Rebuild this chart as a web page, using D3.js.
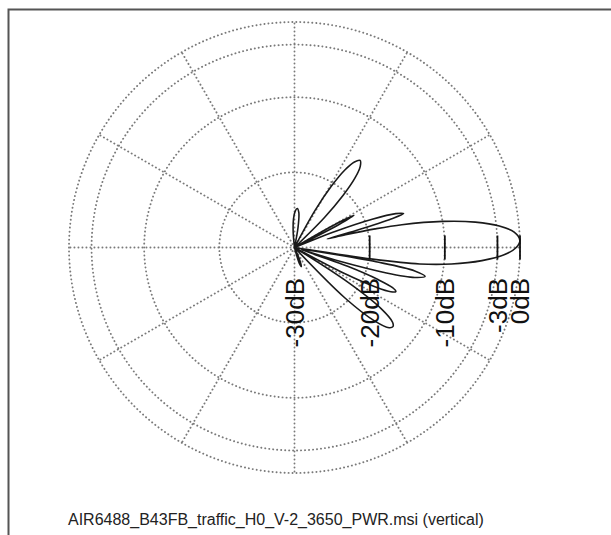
<!DOCTYPE html>
<html lang="en">
<head>
<meta charset="UTF-8">
<script src="https://d3js.org/d3.v7.min.js"></script>
<style>
  body { margin: 0; background: #fff; font-family: "Liberation Sans", Arial, sans-serif; }
  .grid { fill: none; stroke: #7a7a7a; stroke-width: 1.9; stroke-dasharray: 0.1 3.9; stroke-linecap: round; }
  .pattern { fill: none; stroke: #1a1a1a; stroke-width: 1.6; stroke-linejoin: round; }
  .tick { stroke: #111; stroke-width: 1.8; }
  .tick-label { font-size: 26px; fill: #111; }
  .title { font-size: 16px; fill: #222; }
</style>
</head>
<body>
<svg id="chart" width="611" height="535"></svg>
<script>
// vertical pattern, angle in degrees (0 = right, positive = up), gain in dB
const patternAngles = [-180, -120, -80, -76, -73, -70, -67, -64, -50, -47.5, -45, -42.5, -40.3, -38.8, -37.3, -35.2, -33, -30.5,
  -29, -27.5, -26, -24.7, -23.5, -22.3, -21, -19.5, -18, -17, -15.5, -14, -12.5, -11, -9.9, -9.2, -8.5, -7.5, -6, -4, -2, 0, 1.8,
  4, 6, 8, 10, 12, 13, 14, 14.8, 15.5, 16.5, 17.3, 18.5, 20, 21.5, 22.5, 26.3, 27.3, 28.4, 29.5, 30.5,
  43, 45, 47, 49, 51, 53, 55, 57, 59, 61, 63, 77, 80, 83, 86, 89, 92, 95, 98, 120];
const patternDb = [-30, -30, -30, -30, -27.8, -27.3, -28.5, -30, -30, -30, -20.5, -15.5, -13.5, -13.2, -13.6, -15.9, -21.6, -30,
  -30, -22.5, -18.1, -15.9, -15.3, -15.9, -18.1, -22.5, -29, -23.7, -17.3, -13.5, -12.2, -13.7, -19, -30, -19.5, -13.2, -9.0, -5.0, -2.1, -0.5, 0,
  -0.7, -2.6, -5.7, -10, -15.4, -19, -23, -25.5, -21.5, -16.5, -14.8, -15.8, -19, -24, -30, -30, -23.4, -21, -23.4, -30,
  -30, -24.4, -20.5, -17.7, -16.1, -15.5, -16.1, -17.7, -20.5, -24.4, -30, -30, -27.3, -25.3, -24.8, -25.2, -26.2, -28, -30, -30];

const ringDb = [-20, -10, -3, 0];
const spokeAngles = [0, 30, 60, 90, 120, 150, 180, 210, 240, 270, 300, 330];
const tickDb = [-30, -20, -10, -3, 0];
const tickLabels = ["-30dB", "-20dB", "-10dB", "-3dB", "0dB"];
const title = "AIR6488_B43FB_traffic_H0_V-2_3650_PWR.msi (vertical)";

const cx = 294.5, cy = 247.5, R = 225.5;

const svg = d3.select("#chart");

const r = d3.scaleLinear().domain([-30, 0]).range([0, R]).clamp(true);
const toRad = d => (90 - d) * Math.PI / 180;

// frame
svg.append("path")
  .attr("d", "M8.5,535V9.5H611")
  .attr("fill", "none")
  .attr("stroke", "#555")
  .attr("stroke-width", 2);

const g = svg.append("g").attr("transform", `translate(${cx},${cy})`);

// rings
g.selectAll(".ring")
  .data(ringDb)
  .enter()
  .append("circle")
  .attr("class", "grid")
  .attr("r", d => r(d));

// spokes
g.selectAll(".spoke")
  .data(spokeAngles)
  .enter()
  .append("line")
  .attr("class", "grid")
  .attr("x1", 0).attr("y1", 0)
  .attr("x2", d => R * Math.cos(d * Math.PI / 180))
  .attr("y2", d => -R * Math.sin(d * Math.PI / 180));

// pattern
const points = patternAngles.map((a, i) => [toRad(a), r(patternDb[i])]);
const line = d3.lineRadial()
  .angle(d => d[0])
  .radius(d => d[1])
  .curve(d3.curveCatmullRomClosed.alpha(0.5));

g.append("path")
  .datum(points)
  .attr("class", "pattern")
  .attr("d", line);

// ticks on the 0 degree axis
g.selectAll(".tick")
  .data(tickDb.filter(d => d > -30))
  .enter()
  .append("line")
  .attr("class", "tick")
  .attr("x1", d => r(d)).attr("x2", d => r(d))
  .attr("y1", -12).attr("y2", 12);

g.selectAll(".tick-label")
  .data(tickDb)
  .enter()
  .append("text")
  .attr("class", "tick-label")
  .attr("transform", d => `translate(${r(d)},${278 - cy}) rotate(-90)`)
  .attr("text-anchor", "end")
  .attr("dy", "0.36em")
  .text((d, i) => tickLabels[i]);

svg.append("text")
  .attr("class", "title")
  .attr("x", 68)
  .attr("y", 525)
  .text(title);
</script>
</body>
</html>
